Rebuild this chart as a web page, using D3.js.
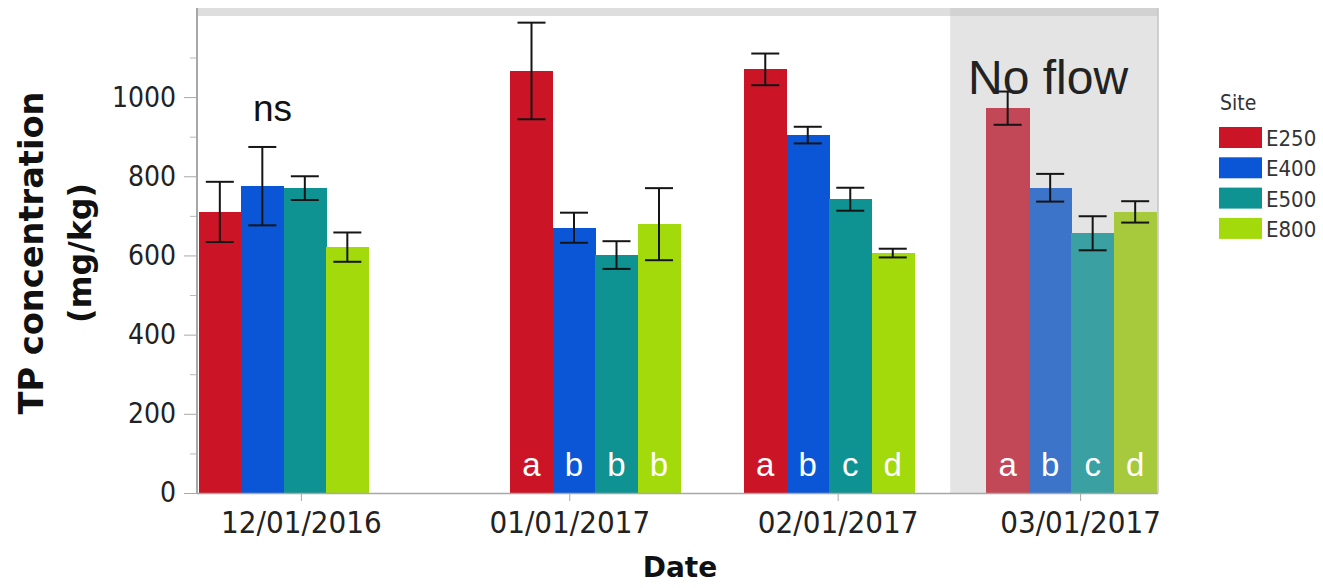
<!DOCTYPE html>
<html>
<head>
<meta charset="utf-8">
<script src="https://cdn.jsdelivr.net/npm/d3@7"></script>
<style>
  html, body { margin: 0; padding: 0; background: #fff; }
  svg { display: block; }
</style>
</head>
<body>
<svg id="chart" width="1323" height="588"></svg>
<script>
// Sites sampled along the stream
const sites = ["E250", "E400", "E500", "E800"];
// Actual sampling dates of each campaign
const sampleDates = ["2016-11-29", "2017-01-04", "2017-01-31", "2017-02-28"];
// Whether water was flowing on that date
const flowing = [true, true, true, false];

// Mean TP concentration (mg/kg) per site, one value per sampling date
const meanE250 = [710, 1066, 1070, 972];
const meanE400 = [775, 670, 904, 771];
const meanE500 = [770, 601, 742, 656];
const meanE800 = [621, 679, 606, 710];
// Standard errors (mg/kg)
const seE250 = [76, 122, 40, 42];
const seE400 = [99, 38, 21, 35];
const seE500 = [30, 35, 29, 43];
const seE800 = [37, 91, 11, 27];

// Significance letters per date (empty = not significant)
const letters = [
  ["", "", "", ""],
  ["a", "b", "b", "b"],
  ["a", "b", "c", "d"],
  ["a", "b", "c", "d"]
];
const groupNotes = ["ns", "", "", ""];

// Axis ticks
const xTickDates = ["2016-12-01", "2017-01-01", "2017-02-01", "2017-03-01"];
const yTicks = [0, 200, 400, 600, 800, 1000];
const yMinorTicks = [100, 300, 500, 700, 900, 1100];

const means = [meanE250, meanE400, meanE500, meanE800];
const errs = [seE250, seE400, seE500, seE800];

const parse = d3.utcParse("%Y-%m-%d");
const fmt = d3.utcFormat("%m/%d/%Y");

const colors = ["#cb1426", "#0b56d6", "#0f9292", "#a2da0c"];
const mutedColors = ["#c24757", "#3c74c9", "#3aa0a1", "#a6ca3c"];

// Flatten into records
const records = [];
sampleDates.forEach((d, gi) => {
  sites.forEach((s, si) => {
    records.push({
      date: parse(d), gi, site: s, si,
      mean: means[si][gi], se: errs[si][gi],
      letter: letters[gi][si], flowing: flowing[gi]
    });
  });
});

const svg = d3.select("#chart");
const plot = { left: 197, right: 1158, top: 8, bottom: 493 };

const x = d3.scaleUtc()
  .domain([parse("2016-11-19"), parse("2017-03-10")])
  .range([plot.left, plot.right]);
const y = d3.scaleLinear().domain([0, 1225]).range([plot.bottom, plot.top]);
const inner = d3.scaleBand().domain(sites).range([-85, 85]).padding(0);

// Shaded "no flow" period: from midway between the last flowing and first dry sample
const firstDry = flowing.indexOf(false);
const shadeStart = new Date((parse(sampleDates[firstDry - 1]).getTime() + parse(sampleDates[firstDry]).getTime()) / 2);

svg.append("rect")
  .attr("x", x(shadeStart)).attr("y", plot.top)
  .attr("width", plot.right - x(shadeStart)).attr("height", plot.bottom - plot.top)
  .attr("fill", "#e4e4e4");

// Top frame band
svg.append("rect")
  .attr("x", plot.left).attr("y", plot.top)
  .attr("width", plot.right - plot.left).attr("height", 8)
  .attr("fill", "#dedede");
svg.append("rect")
  .attr("x", x(shadeStart)).attr("y", plot.top)
  .attr("width", plot.right - x(shadeStart)).attr("height", 8)
  .attr("fill", "#d2d2d2");

// Bars
svg.append("g").attr("shape-rendering", "crispEdges")
  .selectAll("rect").data(records).join("rect")
  .attr("x", d => x(d.date) + inner(d.site))
  .attr("y", d => y(d.mean))
  .attr("width", inner.bandwidth() + 0.6)
  .attr("height", d => y(0) - y(d.mean))
  .attr("fill", d => d.flowing ? colors[d.si] : mutedColors[d.si]);

// Error bars
const eb = svg.append("g").attr("stroke", "#151515").attr("stroke-width", 2).attr("fill", "none");
const cap = 14;
records.forEach(d => {
  const cx = x(d.date) + inner(d.site) + inner.bandwidth() / 2;
  eb.append("line").attr("x1", cx).attr("x2", cx).attr("y1", y(d.mean + d.se)).attr("y2", y(d.mean - d.se));
  eb.append("line").attr("x1", cx - cap).attr("x2", cx + cap).attr("y1", y(d.mean + d.se)).attr("y2", y(d.mean + d.se));
  eb.append("line").attr("x1", cx - cap).attr("x2", cx + cap).attr("y1", y(d.mean - d.se)).attr("y2", y(d.mean - d.se));
});

// Letters inside bars
svg.append("g").selectAll("text").data(records.filter(d => d.letter)).join("text")
  .attr("x", d => x(d.date) + inner(d.site) + inner.bandwidth() / 2)
  .attr("y", 476)
  .attr("text-anchor", "middle")
  .attr("fill", "#fff")
  .style("font-family", "'Liberation Sans', Arial, sans-serif")
  .style("font-size", "33px")
  .text(d => d.letter);

// Group notes ("ns")
sampleDates.forEach((d, gi) => {
  if (!groupNotes[gi]) return;
  svg.append("text")
    .attr("x", x(parse(d)) - 11).attr("y", 121)
    .attr("text-anchor", "middle").attr("fill", "#111")
    .style("font-family", "'Liberation Sans', Arial, sans-serif")
    .style("font-size", "37px")
    .text(groupNotes[gi]);
});

// "No flow" label
svg.append("text")
  .attr("x", 968).attr("y", 94)
  .attr("fill", "#222")
  .style("font-family", "'Liberation Sans', Arial, sans-serif")
  .style("font-size", "48px")
  .text("No flow");

// Axis lines
svg.append("line").attr("x1", plot.left).attr("x2", plot.left).attr("y1", plot.top).attr("y2", plot.bottom + 1)
  .attr("stroke", "#a8a8a8").attr("stroke-width", 2);
svg.append("line").attr("x1", plot.left).attr("x2", plot.right).attr("y1", plot.bottom + 0.5).attr("y2", plot.bottom + 0.5)
  .attr("stroke", "#a8a8a8").attr("stroke-width", 1.5);
svg.append("line").attr("x1", plot.right).attr("x2", plot.right).attr("y1", plot.top).attr("y2", plot.bottom)
  .attr("stroke", "#c4c4c4").attr("stroke-width", 1.5);

// Y axis
const yAxis = d3.axisLeft(y).tickValues(yTicks).tickSize(12).tickPadding(8).tickFormat(d3.format("d"));
const yg = svg.append("g").attr("transform", `translate(${plot.left - 1},0)`).call(yAxis);
yg.select(".domain").remove();
yg.selectAll(".tick line").attr("stroke", "#a8a8a8");
yg.selectAll(".tick text")
  .attr("fill", "#222")
  .style("font-family", "'DejaVu Sans Condensed', 'DejaVu Sans', sans-serif")
  .style("font-stretch", "condensed")
  .style("font-size", "28px");
const yMinor = d3.axisLeft(y).tickValues(yMinorTicks).tickSize(6).tickFormat("");
const ymg = svg.append("g").attr("transform", `translate(${plot.left - 1},0)`).call(yMinor);
ymg.select(".domain").remove();
ymg.selectAll(".tick line").attr("stroke", "#b8b8b8");

// X axis
const xAxis = d3.axisBottom(x).tickValues(xTickDates.map(parse)).tickSize(8).tickPadding(10).tickFormat(fmt);
const xg = svg.append("g").attr("transform", `translate(0,${plot.bottom})`).call(xAxis);
xg.select(".domain").remove();
xg.selectAll(".tick line").attr("stroke", "#a8a8a8");
xg.selectAll(".tick text")
  .attr("fill", "#222")
  .style("font-family", "'DejaVu Sans Condensed', 'DejaVu Sans', sans-serif")
  .style("font-stretch", "condensed")
  .style("font-size", "31px");

// Axis titles
svg.append("text")
  .attr("transform", "translate(43,253) rotate(-90)")
  .attr("text-anchor", "middle").attr("fill", "#111")
  .style("font-family", "'DejaVu Sans', sans-serif").style("font-weight", "bold")
  .style("font-size", "34px")
  .attr("textLength", 323).attr("lengthAdjust", "spacingAndGlyphs")
  .text("TP concentration");
svg.append("text")
  .attr("transform", "translate(91,253) rotate(-90)")
  .attr("text-anchor", "middle").attr("fill", "#111")
  .style("font-family", "'DejaVu Sans', sans-serif").style("font-weight", "bold")
  .style("font-size", "32px")
  .attr("textLength", 140).attr("lengthAdjust", "spacingAndGlyphs")
  .text("(mg/kg)");
svg.append("text")
  .attr("x", 680).attr("y", 577)
  .attr("text-anchor", "middle").attr("fill", "#111")
  .style("font-family", "'DejaVu Sans', sans-serif").style("font-weight", "bold")
  .style("font-size", "28px")
  .text("Date");

// Legend
const lg = svg.append("g").attr("transform", "translate(1219,0)");
lg.append("text").attr("x", 1).attr("y", 110).attr("fill", "#333")
  .style("font-family", "'DejaVu Sans Condensed', 'DejaVu Sans', sans-serif").style("font-stretch", "condensed")
  .style("font-size", "21px").text("Site");
sites.forEach((s, i) => {
  lg.append("rect").attr("x", 0).attr("y", 127 + i * 30.3).attr("width", 43).attr("height", 21).attr("fill", colors[i]);
  lg.append("text").attr("x", 47).attr("y", 146 + i * 30.3).attr("fill", "#333")
    .style("font-family", "'DejaVu Sans Condensed', 'DejaVu Sans', sans-serif").style("font-stretch", "condensed")
    .style("font-size", "22px").text(s);
});
</script>
</body>
</html>
